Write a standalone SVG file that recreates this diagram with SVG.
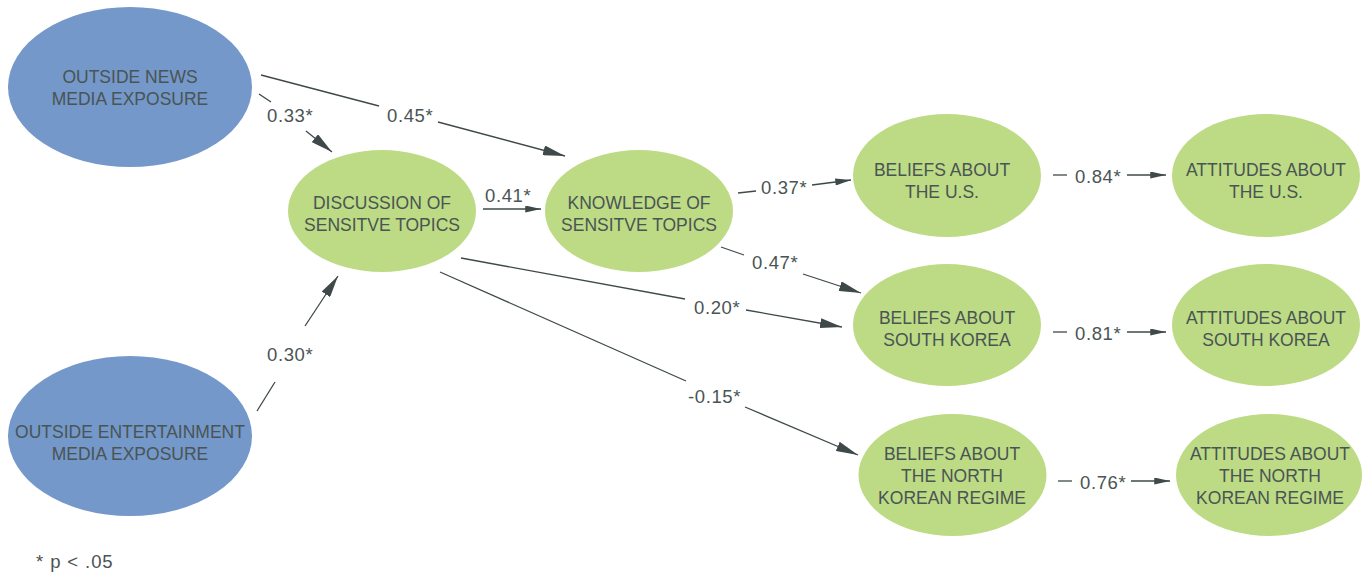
<svg xmlns="http://www.w3.org/2000/svg" width="1366" height="573" viewBox="0 0 1366 573">
<style>
  .blue { fill: #7398c9; }
  .green { fill: #bcdb84; }
  .nt { font-family: "Liberation Sans", Arial, sans-serif; font-size: 17.5px; fill: #4a5454; text-anchor: middle; }
  .lbl { font-family: "Liberation Sans", Arial, sans-serif; font-size: 18.5px; fill: #4a5454; letter-spacing: 0.6px; }
  .foot { font-family: "Liberation Sans", Arial, sans-serif; font-size: 18.5px; fill: #4a5454; letter-spacing: 0.9px; }
  .ln { stroke: #3f4949; stroke-width: 1.3; fill: none; }
</style>
<defs>
  <marker id="ahL" viewBox="0 0 22 10" refX="22" refY="5" markerWidth="22" markerHeight="10" markerUnits="userSpaceOnUse" orient="auto">
    <path d="M0,0 L22,5 L0,10 z" fill="#3f4949"/>
  </marker>
  <marker id="ahS" viewBox="0 0 18 8" refX="18" refY="4" markerWidth="18" markerHeight="7" markerUnits="userSpaceOnUse" orient="auto">
    <path d="M0,0 L18,4 L0,8 z" fill="#3f4949"/>
  </marker>
</defs>

<g id="connectors">
  <!-- News -> Knowledge 0.45 -->
  <line class="ln" x1="261" y1="75" x2="379" y2="106"/>
  <line class="ln" x1="438" y1="122" x2="565" y2="156" marker-end="url(#ahL)"/>
  <text class="lbl" x="387" y="122">0.45*</text>
  <!-- News -> Discussion 0.33 -->
  <line class="ln" x1="259" y1="94" x2="271" y2="102"/>
  <line class="ln" x1="306" y1="131" x2="332" y2="152" marker-end="url(#ahL)"/>
  <text class="lbl" x="267" y="122">0.33*</text>
  <!-- Entertainment -> Discussion 0.30 -->
  <line class="ln" x1="257" y1="411" x2="275" y2="382"/>
  <line class="ln" x1="305" y1="326" x2="338" y2="276" marker-end="url(#ahL)"/>
  <text class="lbl" x="267" y="361">0.30*</text>
  <!-- Discussion -> Knowledge 0.41 -->
  <line class="ln" x1="483" y1="209" x2="541" y2="209" marker-end="url(#ahS)"/>
  <text class="lbl" x="485" y="202">0.41*</text>
  <!-- Knowledge -> Beliefs US 0.37 -->
  <line class="ln" x1="738" y1="193" x2="756" y2="191"/>
  <line class="ln" x1="812" y1="185" x2="851" y2="180" marker-end="url(#ahS)"/>
  <text class="lbl" x="761" y="194">0.37*</text>
  <!-- Knowledge -> Beliefs SK 0.47 -->
  <line class="ln" x1="721" y1="247" x2="744" y2="255"/>
  <line class="ln" x1="803" y1="274" x2="861" y2="293" marker-end="url(#ahL)"/>
  <text class="lbl" x="752" y="269">0.47*</text>
  <!-- Discussion -> Beliefs SK 0.20 -->
  <line class="ln" x1="461" y1="258" x2="685" y2="299"/>
  <line class="ln" x1="746" y1="310" x2="842" y2="327" marker-end="url(#ahL)"/>
  <text class="lbl" x="694" y="314">0.20*</text>
  <!-- Discussion -> Beliefs NK -0.15 -->
  <line class="ln" x1="440" y1="272" x2="686" y2="381"/>
  <line class="ln" x1="745" y1="407" x2="858" y2="455" marker-end="url(#ahL)"/>
  <text class="lbl" x="688" y="403">-0.15*</text>
  <!-- Beliefs US -> Attitudes US 0.84 -->
  <line class="ln" x1="1053" y1="175" x2="1067" y2="175"/>
  <line class="ln" x1="1127" y1="175" x2="1166" y2="175" marker-end="url(#ahS)"/>
  <text class="lbl" x="1075" y="183">0.84*</text>
  <!-- Beliefs SK -> Attitudes SK 0.81 -->
  <line class="ln" x1="1053" y1="332" x2="1067" y2="332"/>
  <line class="ln" x1="1127" y1="332" x2="1166" y2="332" marker-end="url(#ahS)"/>
  <text class="lbl" x="1075" y="340">0.81*</text>
  <!-- Beliefs NK -> Attitudes NK 0.76 -->
  <line class="ln" x1="1058" y1="481" x2="1072" y2="481"/>
  <line class="ln" x1="1131" y1="481" x2="1170" y2="481" marker-end="url(#ahS)"/>
  <text class="lbl" x="1080" y="489">0.76*</text>
</g>

<g id="news">
  <ellipse class="blue" cx="130" cy="87" rx="122" ry="80"/>
  <text class="nt" x="130" y="83">OUTSIDE NEWS</text>
  <text class="nt" x="130" y="105">MEDIA EXPOSURE</text>
</g>
<g id="entertainment">
  <ellipse class="blue" cx="130" cy="436" rx="122" ry="80"/>
  <text class="nt" x="130" y="438">OUTSIDE ENTERTAINMENT</text>
  <text class="nt" x="130" y="460">MEDIA EXPOSURE</text>
</g>
<g id="discussion">
  <ellipse class="green" cx="382" cy="211" rx="94" ry="61"/>
  <text class="nt" x="382" y="209">DISCUSSION OF</text>
  <text class="nt" x="382" y="231">SENSITVE TOPICS</text>
</g>
<g id="knowledge">
  <ellipse class="green" cx="639" cy="211" rx="94" ry="61"/>
  <text class="nt" x="639" y="209">KNOWLEDGE OF</text>
  <text class="nt" x="639" y="231">SENSITVE TOPICS</text>
</g>
<g id="beliefs-us">
  <ellipse class="green" cx="947" cy="175.5" rx="94" ry="61.5"/>
  <text class="nt" x="942" y="176">BELIEFS ABOUT</text>
  <text class="nt" x="942" y="198">THE U.S.</text>
</g>
<g id="attitudes-us">
  <ellipse class="green" cx="1266" cy="175.5" rx="94" ry="61.5"/>
  <text class="nt" x="1266" y="176">ATTITUDES ABOUT</text>
  <text class="nt" x="1266" y="198">THE U.S.</text>
</g>
<g id="beliefs-sk">
  <ellipse class="green" cx="947" cy="325" rx="94" ry="61"/>
  <text class="nt" x="947" y="324">BELIEFS ABOUT</text>
  <text class="nt" x="947" y="346">SOUTH KOREA</text>
</g>
<g id="attitudes-sk">
  <ellipse class="green" cx="1266" cy="325" rx="94" ry="61"/>
  <text class="nt" x="1266" y="324">ATTITUDES ABOUT</text>
  <text class="nt" x="1266" y="346">SOUTH KOREA</text>
</g>
<g id="beliefs-nk">
  <ellipse class="green" cx="952.5" cy="475" rx="94" ry="61"/>
  <text class="nt" x="952" y="460">BELIEFS ABOUT</text>
  <text class="nt" x="952" y="482">THE NORTH</text>
  <text class="nt" x="952" y="504">KOREAN REGIME</text>
</g>
<g id="attitudes-nk">
  <ellipse class="green" cx="1269" cy="475" rx="93" ry="61"/>
  <text class="nt" x="1270" y="460">ATTITUDES ABOUT</text>
  <text class="nt" x="1270" y="482">THE NORTH</text>
  <text class="nt" x="1270" y="504">KOREAN REGIME</text>
</g>

<text class="foot" x="36" y="568">* p &lt; .05</text>
</svg>
